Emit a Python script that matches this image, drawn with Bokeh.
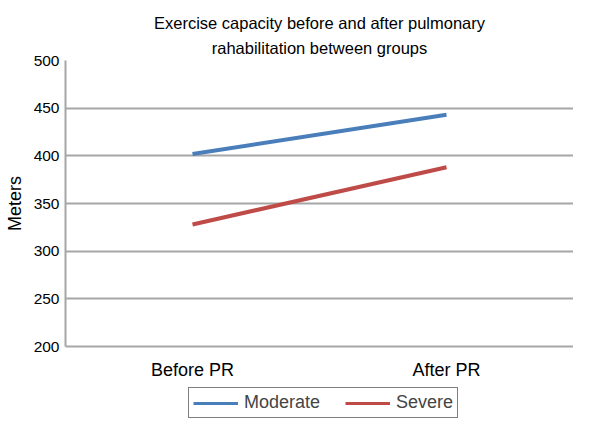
from bokeh.plotting import figure
from bokeh.layouts import column
from bokeh.models import Title, Legend, LegendItem, FixedTicker, Range1d
from bokeh.embed import file_html
from bokeh.resources import INLINE

categories = ["Before PR", "After PR"]
moderate = [402, 443]
severe = [328, 388]
y_ticks = [200, 250, 300, 350, 400, 450, 500]
series_names = ["Moderate", "Severe"]
series_colors = ["#4a7ebb", "#be4b48"]

FONT = "Liberation Sans"
xs = list(range(len(categories)))

p = figure(frame_width=508, frame_height=286, output_backend="svg", toolbar_location=None,
           x_range=Range1d(-0.5, 1.5), y_range=Range1d(200, 500),
           min_border_left=65, min_border_right=0, min_border_top=60, min_border_bottom=40)
p.title = None
p.add_layout(Title(text="rahabilitation between groups", align="center",
                   text_font=FONT, text_font_size="16.5px", text_font_style="normal",
                   text_color="#000000", standoff=8), "above")
p.add_layout(Title(text="Exercise capacity before and after pulmonary", align="center",
                   text_font=FONT, text_font_size="16.5px", text_font_style="normal",
                   text_color="#000000", standoff=2), "above")

p.line(xs, moderate, line_color=series_colors[0], line_width=4)
p.line(xs, severe, line_color=series_colors[1], line_width=4)

p.xaxis.ticker = FixedTicker(ticks=xs)
p.xaxis.major_label_overrides = {i: c for i, c in enumerate(categories)}
p.yaxis.ticker = FixedTicker(ticks=y_ticks)
for ax in (p.xaxis[0], p.yaxis[0]):
    ax.major_tick_line_color = None
    ax.minor_tick_line_color = None
    ax.axis_line_color = "#a6a6a6"
    ax.axis_line_width = 2
    ax.major_label_text_font = FONT
    ax.major_label_text_color = "#000000"
p.xaxis.major_label_text_font_size = "18px"
p.yaxis.major_label_text_font_size = "15.5px"
p.xaxis.major_label_standoff = 7
p.yaxis.major_label_standoff = 0
p.yaxis.axis_label = "Meters"
p.yaxis.axis_label_text_font = FONT
p.yaxis.axis_label_text_font_size = "18px"
p.yaxis.axis_label_text_font_style = "normal"
p.yaxis.axis_label_text_color = "#000000"
p.yaxis.axis_label_standoff = 6

p.xgrid.grid_line_color = None
p.ygrid.grid_line_color = "#a6a6a6"
p.ygrid.grid_line_width = 2
p.outline_line_color = None

# legend strip below the chart (series drawn out of view; only the legend shows)
lf = figure(width=573, height=34, output_backend="svg", toolbar_location=None,
            x_axis_type=None, y_axis_type=None, min_border=0,
            x_range=Range1d(-0.5, 1.5), y_range=Range1d(0, 1))
lf.outline_line_color = None
lf.grid.grid_line_color = None
items = []
for name, col, vals in zip(series_names, series_colors, [moderate, severe]):
    r = lf.line(xs, vals, line_color=col, line_width=3)
    items.append(LegendItem(label=name, renderers=[r]))
legend = Legend(items=items, orientation="horizontal", location=(123, 2),
                label_text_font=FONT, label_text_font_size="18px",
                border_line_color="#000000", border_line_width=1.5,
                glyph_width=45, glyph_height=18, spacing=25, padding=4,
                margin=0, label_standoff=6)
lf.add_layout(legend, "center")

layout = column(p, lf, spacing=0)
open("out.html", "w").write(file_html(layout, INLINE))
